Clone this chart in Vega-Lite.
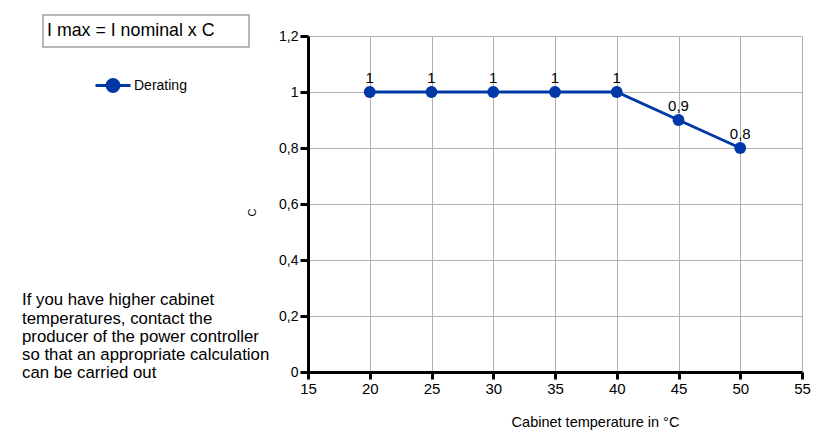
{
  "$schema": "https://vega.github.io/schema/vega-lite/v6.json",
  "autosize": "none",
  "width": 494,
  "height": 336,
  "padding": {"left": 308, "top": 36, "right": 15, "bottom": 58},
  "background": "white",
  "config": {
    "font": "Liberation Sans",
    "view": {"stroke": null},
    "locale": {"number": {"decimal": ",", "thousands": ".", "grouping": [3], "currency": ["", " €"]}}
  },
  "title": {
    "text": ["If you have higher cabinet", "temperatures, contact the", "producer of the power controller", "so that an appropriate calculation", "can be carried out"],
    "anchor": "start",
    "frame": "group",
    "orient": "top",
    "baseline": "top",
    "offset": 0,
    "dx": -286,
    "dy": 455,
    "fontSize": 16.8,
    "lineHeight": 18.2,
    "font": "Liberation Sans",
    "fontWeight": "normal",
    "color": "#000000"
  },
  "data": {
    "values": [
      {"t": 20, "c": 1, "series": "Derating"},
      {"t": 25, "c": 1, "series": "Derating"},
      {"t": 30, "c": 1, "series": "Derating"},
      {"t": 35, "c": 1, "series": "Derating"},
      {"t": 40, "c": 1, "series": "Derating"},
      {"t": 45, "c": 0.9, "series": "Derating"},
      {"t": 50, "c": 0.8, "series": "Derating"}
    ]
  },
  "encoding": {
    "x": {
      "field": "t", "type": "quantitative",
      "scale": {"domain": [15, 55], "nice": false, "zero": false},
      "axis": {
        "values": [15, 20, 25, 30, 35, 40, 45, 50, 55],
        "labelFlush": false,
        "title": "Cabinet temperature in °C",
        "titleFontSize": 14.5, "titleFontWeight": "normal", "titleColor": "#000",
        "titleX": 287, "titleY": 50, "titleBaseline": "middle", "titleAlign": "center", "titleAnchor": null,
        "labelFontSize": 15, "labelColor": "#000", "labelPadding": 2,
        "domainColor": "#000", "domainWidth": 3,
        "tickColor": "#000", "tickWidth": 3, "tickSize": 7,
        "gridColor": "#b0b0b0", "gridWidth": 1
      }
    },
    "y": {
      "field": "c", "type": "quantitative",
      "scale": {"domain": [0, 1.2], "nice": false},
      "axis": {
        "values": [0, 0.2, 0.4, 0.6, 0.8, 1, 1.2],
        "labelFlush": false,
        "format": ".1~f",
        "title": "C",
        "titleFontSize": 11, "titleFontWeight": "normal", "titleColor": "#000",
        "titleX": -56, "titleY": 176, "titleAngle": -90, "titleBaseline": "middle", "titleAlign": "center", "titleAnchor": null,
        "labelFontSize": 14, "labelColor": "#000", "labelPadding": 2,
        "domainColor": "#000", "domainWidth": 3,
        "tickColor": "#000", "tickWidth": 3, "tickSize": 8,
        "gridColor": "#b0b0b0", "gridWidth": 1
      }
    }
  },
  "layer": [
    {
      "mark": {"type": "line", "strokeWidth": 3},
      "encoding": {
        "color": {
          "field": "series", "type": "nominal",
          "scale": {"range": ["#0038A8"]},
          "legend": {
            "orient": "none", "legendX": -214, "legendY": 30.5,
            "title": null, "padding": 0,
            "symbolType": "M-1,0L1,0M-0.34,0A0.34,0.34 0 1,0 0.34,0A0.34,0.34 0 1,0 -0.34,0Z",
            "symbolSize": 1225, "symbolStrokeWidth": 3, "symbolOpacity": 1,
            "symbolFillColor": "#0038A8", "symbolStrokeColor": "#0038A8",
            "labelFontSize": 14, "labelColor": "#000", "labelOffset": 2
          }
        }
      }
    },
    {
      "mark": {"type": "point", "filled": true, "size": 140, "opacity": 1},
      "encoding": {
        "color": {"field": "series", "type": "nominal"},
        "opacity": {
          "datum": "I max = I nominal x C",
          "type": "ordinal",
          "scale": {"range": [1, 1]},
          "legend": {
            "orient": "none", "legendX": -266, "legendY": -109,
            "title": null, "padding": 0,
            "symbolType": "M-1,-0.155L1,-0.155L1,0.155L-1,0.155Z",
            "symbolSize": 42436,
            "symbolFillColor": "white", "symbolStrokeColor": "#a0a0a0", "symbolStrokeWidth": 1.5,
            "labelFontSize": 17.8, "labelColor": "#000", "labelOffset": -203, "labelLimit": 400
          }
        }
      }
    },
    {
      "mark": {"type": "text", "dy": -14, "fontSize": 15, "color": "#000"},
      "encoding": {
        "text": {"field": "c", "type": "quantitative", "format": ".1~f"}
      }
    }
  ]
}
